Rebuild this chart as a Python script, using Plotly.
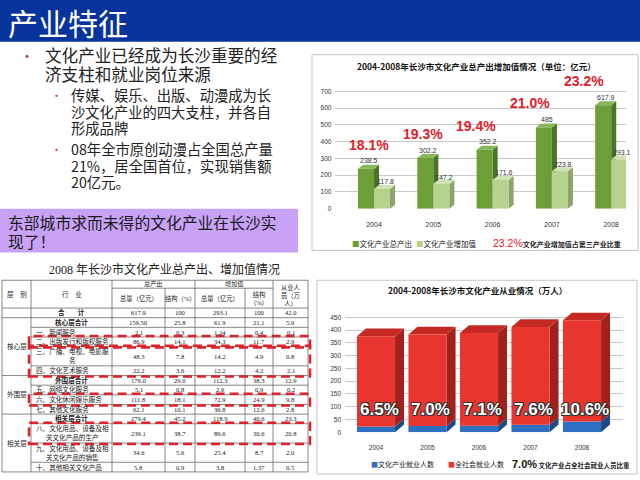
import plotly.graph_objects as go

W, H = 640, 480
def X(p): return p / W
def Y(p): return 1 - p / H

CJK = "Noto Sans CJK SC"
SERIF = "Liberation Serif, Noto Sans CJK SC"
NARROW = "Liberation Sans Narrow, Liberation Sans, Arial"

# ---------------- data ----------------
page_title = "产业特征"
bullet_main = ["文化产业已经成为长沙重要的经", "济支柱和就业岗位来源"]
bullet_sub1 = ["传媒、娱乐、出版、动漫成为长", "沙文化产业的四大支柱，并各自", "形成品牌"]
bullet_sub2 = ["08年全市原创动漫占全国总产量", "21%，居全国首位，实现销售额", "20亿元。"]
callout = ["东部城市求而未得的文化产业在长沙实", "现了！"]

years = ["2004", "2005", "2006", "2007", "2008"]
total_output = [238.5, 302.2, 352.2, 485, 617.9]
added_value = [117.8, 147.2, 171.6, 223.8, 293.1]
tertiary_share = ["18.1%", "19.3%", "19.4%", "21.0%", "23.2%"]
chart1_title = "2004-2008年长沙市文化产业总产出增加值情况（单位：亿元）"
chart1_names = ["文化产业总产出", "文化产业增加值", "文化产业增加值占第三产业比重"]

culture_jobs = [23, 25, 26, 29, 42]
society_jobs = [353, 358, 363, 383, 396]
culture_job_share = ["6.5%", "7.0%", "7.1%", "7.6%", "10.6%"]
chart2_title = "2004-2008年长沙市文化产业从业情况（万人）"
chart2_names = ["文化产业就业人数", "全社会就业人数", "文化产业占全社会就业人员比重"]

table_title = "2008 年长沙市文化产业总产出、增加值情况"
layer_names = ["核心层", "外围层", "相关层"]
layer_rows = [(1, 5), (6, 9), (10, 13)]
industries = ["合　　计", "核心层合计", "一、新闻服务", "二、出版发行和版权服务",
              "三、广播、电视、电影服<br>务", "四、文化艺术服务", "外围层合计",
              "五、网络文化服务", "六、文化休闲娱乐服务", "七、其他文化服务", "相关层合计",
              "八、文化用品、设备及相<br>关文化产品的生产",
              "九、文化用品、设备及相<br>关文化产品的销售", "十、其他相关文化产品"]
row_units = [1, 1, 1, 1, 2, 1, 1, 1, 1, 1, 1, 2, 2, 1]
subtotal_rows = [0, 1, 6, 10]
out_total = ["617.9", "159.50", "2.1", "86.9", "48.3", "22.2", "179.0", "5.1", "111.8", "62.1", "279.4", "239.1", "34.6", "5.8"]
out_share = ["100", "25.8", "0.3", "14.1", "7.8", "3.6", "29.0", "0.8", "18.1", "10.1", "45.2", "38.7", "5.6", "0.9"]
add_total = ["293.1", "61.9", "1.24", "34.3", "14.2", "12.2", "112.3", "2.6", "72.9", "36.8", "118.9", "89.6", "25.4", "3.8"]
add_share = ["100", "21.1", "0.4", "11.7", "4.9", "4.2", "38.3", "0.9", "24.9", "12.6", "40.6", "30.6", "8.7", "1.37"]
employees = ["42.0", "5.9", "0.1", "2.9", "0.8", "2.1", "12.9", "0.2", "9.8", "2.8", "23.3", "20.8", "2.0", "0.5"]
highlight_rows = [(3, 3), (4, 5), (8, 8), (11, 11)]

# ---------------- figure ----------------
fig = go.Figure()
shapes = []
anns = []

def ann(x, y, text, size, color="#222", xa="left", ya="middle", family=CJK, **kw):
    d = dict(x=X(x), y=Y(y), xref="paper", yref="paper", text=text, showarrow=False,
             xanchor=xa, yanchor=ya, font=dict(size=size, color=color, family=family))
    d.update(kw)
    anns.append(d)

def block(x, y, lines, size, spacing, color="#222"):
    # one text element; line pitch = 1.3 * base font, glyphs drawn at `size`
    body = "<br>".join(f"<span style='font-size:{size}px'>{t}</span>" for t in lines)
    ann(x, y, body, spacing / 1.3, color=color, align="left", borderpad=0)

def rect(x0, y0, x1, y1, fill=None, line=None, lw=1, dash=None, layer="below"):
    d = dict(type="rect", xref="paper", yref="paper", x0=X(x0), x1=X(x1), y0=Y(y1), y1=Y(y0),
             fillcolor=fill if fill else "rgba(0,0,0,0)", layer=layer,
             line=dict(color=line if line else "rgba(0,0,0,0)", width=lw if line else 0))
    if dash:
        d["line"]["dash"] = dash
    shapes.append(d)

def seg(x0, y0, x1, y1, color="#555", w=0.7):
    shapes.append(dict(type="line", xref="paper", yref="paper", x0=X(x0), x1=X(x1),
                       y0=Y(y0), y1=Y(y1), line=dict(color=color, width=w), layer="above"))

# title bar
rect(0, 0, 640, 42, fill="#07349C")
ann(7, 22, page_title, 30, color="white", borderpad=0)

# bullet text
BUL = "#B5453F"
ann(18, 55, "•", 14, color=BUL)
block(44, 64.5, bullet_main, 16.6, 18.8)
ann(49, 95.5, "•", 11, color=BUL)
block(70, 112, bullet_sub1, 14.3, 16.6)
ann(49, 149.5, "•", 11, color=BUL)
block(70, 166, bullet_sub2, 14.3, 16.6)

# callout box
rect(0, 210, 298, 254, fill="#C8A2F6")
block(7, 233.5, callout, 15.8, 18.6, color="#1a1a1a")

# ---------------- chart 1 ----------------
idx = list(range(len(years)))
w1 = 0.27
fig.add_trace(go.Bar(x=idx, y=total_output, width=w1, offset=-w1, marker=dict(color="#6E9E38", line=dict(width=0)),
                     xaxis="x", yaxis="y", name=chart1_names[0]))
fig.add_trace(go.Bar(x=idx, y=added_value, width=w1, offset=0, marker=dict(color="#B5D28E", line=dict(width=0)),
                     xaxis="x", yaxis="y", name=chart1_names[1]))
dx1, dy1 = 0.085, 24
def faces(xref, yref, x0, x1, y0, y1, dx, dy, side, top):
    shapes.append(dict(type="path", xref=xref, yref=yref, layer="between", line=dict(width=0), fillcolor=side,
                       path=f"M{x1},{y0} L{x1+dx},{y0+dy} L{x1+dx},{y1+dy} L{x1},{y1} Z"))
    shapes.append(dict(type="path", xref=xref, yref=yref, layer="between", line=dict(width=0), fillcolor=top,
                       path=f"M{x0},{y1} L{x1},{y1} L{x1+dx},{y1+dy} L{x0+dx},{y1+dy} Z"))
for i in idx:
    faces("x", "y", i - w1, i, 0, total_output[i], dx1, dy1, "#4B7426", "#8AB758")
    faces("x", "y", i, i + w1, 0, added_value[i], dx1, dy1, "#8DA56C", "#CFE2B4")
for i in idx:
    anns.append(dict(x=i - w1 / 2, y=total_output[i], xref="x", yref="y", text=f"{total_output[i]:g}", borderpad=0,
                     showarrow=False, yanchor="middle", yshift=8, xshift=3, font=dict(size=7, color="#333", family="Liberation Sans")))
    anns.append(dict(x=i + w1 / 2, y=added_value[i], xref="x", yref="y", text=f"{added_value[i]:g}", borderpad=0,
                     showarrow=False, yanchor="middle", yshift=7, xshift=3, font=dict(size=7, color="#333", family="Liberation Sans")))
    anns.append(dict(x=i, y=total_output[i], xref="x", yref="y", text=f"<b>{tertiary_share[i]}</b>", borderpad=0,
                     showarrow=False, yanchor="middle", yshift=24, xshift=-5 - 5.6 * i,
                     font=dict(size=14, color="#E0202A", family=NARROW)))

rect(312, 55, 638, 252, line="#C4C4C4", lw=1)
ann(476, 66, f"<b>{chart1_title}</b>", 8.5, color="#111", xa="center")
ann(351, 245, "<span style='color:#6E9E38'>■</span>" + chart1_names[0], 7.5, color="#222", borderpad=0)
ann(415, 245, "<span style='color:#B5D28E'>■</span>" + chart1_names[1], 7.5, color="#222", borderpad=0)
ann(492, 245, f"<span style='color:#E0202A;font-size:10.5px;font-family:Liberation Sans Narrow, Liberation Sans'>{tertiary_share[-1]}</span>"
    f"<b>{chart1_names[2]}</b>", 7, color="#222", borderpad=0)

# ---------------- chart 2 ----------------
w2 = 0.74
fig.add_trace(go.Bar(x=idx, y=culture_jobs, width=w2, marker=dict(color="#2E6FC2", line=dict(width=0)),
                     xaxis="x2", yaxis="y2", name=chart2_names[0]))
fig.add_trace(go.Bar(x=idx, y=society_jobs, base=culture_jobs, width=w2, marker=dict(color="#E8352E", line=dict(width=0)),
                     xaxis="x2", yaxis="y2", name=chart2_names[1]))
dx2, dy2 = 0.175, 30
for i in idx:
    b = culture_jobs[i]
    t = culture_jobs[i] + society_jobs[i]
    x0, x1 = i - w2 / 2, i + w2 / 2
    shapes.append(dict(type="path", xref="x2", yref="y2", layer="between", line=dict(width=0), fillcolor="#1D4A86",
                       path=f"M{x1},0 L{x1+dx2},{dy2} L{x1+dx2},{b+dy2} L{x1},{b} Z"))
    faces("x2", "y2", x0, x1, b, t, dx2, dy2, "#A3211D", "#C42A23")
    anns.append(dict(x=i, y=89, xref="x2", yref="y2", text=f"<b>{culture_job_share[i]}</b>", showarrow=False,
                     xshift=3, font=dict(size=17, color="white", family=NARROW,
                                         shadow="-1px -1px 0 #333, 1px -1px 0 #333, -1px 1px 0 #333, 1px 1px 0 #333")))

rect(317, 282, 637, 477, line="#C4C4C4", lw=1)
ann(477, 292, f"<b>{chart2_title}</b>", 8.5, color="#111", xa="center")
ann(370, 467, "<span style='color:#2E6FC2'>■</span>" + chart2_names[0], 7, color="#222", borderpad=0)
ann(447, 467, "<span style='color:#E8352E'>■</span>" + chart2_names[1], 7, color="#222", borderpad=0)
ann(511, 467, f"<span style='color:#111;font-size:11px;font-family:Liberation Sans Narrow, Liberation Sans'><b>{culture_job_share[1]}</b></span>"
    f" <b>{chart2_names[2]}</b>", 6.5, color="#222", borderpad=0)

# ---------------- table ----------------
cols_x = [2, 31, 112, 165, 195, 245, 273, 308]
t_top, h_mid, h_bot = 282, 290, 310
unit = 9.7
edges = [h_bot]
for u in row_units:
    edges.append(edges[-1] + u * unit)
t_bot = edges[-1]
TL = "#555"
TF = 6.6
ann(164, 271, table_title, 12, color="#222", xa="center", family=SERIF, borderpad=0)
seg(cols_x[0], t_top, cols_x[-1], t_top, TL)
seg(cols_x[0], t_bot, cols_x[-1], t_bot, TL)
seg(cols_x[0], h_bot, cols_x[-1], h_bot, TL)
seg(cols_x[2], h_mid, cols_x[6], h_mid, TL)
for k, cx in enumerate(cols_x):
    y0 = h_mid if k in (3, 5) else t_top
    seg(cx, y0, cx, t_bot, TL)
layer_breaks = {0} | {b for (_, b) in layer_rows}
for r in range(len(industries) - 1):
    xs = cols_x[0] if r in layer_breaks else cols_x[1]
    seg(xs, edges[r + 1], cols_x[-1], edges[r + 1], TL)

def tcell(x, y, text, size=TF, xa="center"):
    ann(x, y, text, size, xa=xa, family=SERIF, borderpad=0)

hy = (t_top + h_bot) / 2
tcell((cols_x[0] + cols_x[1]) / 2, hy, "层　别")
tcell((cols_x[1] + cols_x[2]) / 2, hy, "行　业")
tcell((cols_x[2] + cols_x[4]) / 2, (t_top + h_mid) / 2, "总产出", 6.2)
tcell((cols_x[4] + cols_x[6]) / 2, (t_top + h_mid) / 2, "增加值", 6.2)
sub_heads = ["总量（亿元）", "结构（%）", "总量（亿元）", "结构<br>（%）"]
for k, t in enumerate(sub_heads):
    tcell((cols_x[2 + k] + cols_x[3 + k]) / 2, (h_mid + h_bot) / 2, t, 6.3)
tcell((cols_x[6] + cols_x[7]) / 2, hy + 0.5, "从业人<br>员（万<br>人）", 6.3)

for name, (a, b) in zip(layer_names, layer_rows):
    tcell((cols_x[0] + cols_x[1]) / 2, (edges[a] + edges[b + 1]) / 2, name)
value_cols = [out_total, out_share, add_total, add_share, employees]
for r, name in enumerate(industries):
    yc = (edges[r] + edges[r + 1]) / 2
    if r in subtotal_rows:
        tcell((cols_x[1] + cols_x[2]) / 2, yc, f"<b>{name}</b>")
    else:
        tcell(cols_x[1] + 4, yc, name, xa="left")
    for k, col in enumerate(value_cols):
        tcell((cols_x[2 + k] + cols_x[3 + k]) / 2, yc, col[r])

for (a, b) in highlight_rows:
    rect(29, edges[a] - 1, 310, edges[b + 1] + 1, line="#E0202A", lw=2.5, dash="9px,5px", layer="above")

# ---------------- layout ----------------
x1c, s1 = 374, 59.3
y1b, k1 = 210, 0.1686
x2c, s2 = 376, 51.5
y2b, k2 = 435, 0.2571
r1 = [-0.65, 4.25]
r2 = [-0.6, 4.8]
fig.update_layout(
    width=W, height=H, margin=dict(l=0, r=0, t=0, b=0), showlegend=False, barmode="overlay",
    paper_bgcolor="white", plot_bgcolor="white",
    xaxis=dict(domain=[X(x1c + s1 * r1[0]), X(x1c + s1 * r1[1])], range=r1, tickvals=idx, ticktext=years,
               showgrid=False, zeroline=False, showline=False, ticks="", ticklabelstandoff=10,
               tickfont=dict(size=7, color="#333", family="Liberation Sans"), fixedrange=True),
    yaxis=dict(domain=[Y(y1b), Y(y1b - 740 * k1)], range=[0, 740], tickvals=list(range(0, 701, 100)),
               gridcolor="#C8C8C8", gridwidth=1, zeroline=False, showline=False, ticks="", ticklabelstandoff=3,
               tickfont=dict(size=6.5, color="#333", family="Liberation Sans")),
    xaxis2=dict(domain=[X(x2c + s2 * r2[0]), X(x2c + s2 * r2[1])], range=r2, tickvals=idx, ticktext=years,
                anchor="y2", showgrid=False, zeroline=False, showline=False, ticks="", ticklabelstandoff=10,
                tickfont=dict(size=6.5, color="#333", family="Liberation Sans")),
    yaxis2=dict(domain=[Y(y2b), Y(y2b - 480 * k2)], range=[0, 480], tickvals=list(range(0, 451, 50)),
                anchor="x2", gridcolor="#C8C8C8", gridwidth=1, zeroline=False, showline=False, ticks="",
                ticklabelstandoff=3, tickfont=dict(size=6.5, color="#333", family="Liberation Sans")),
    shapes=shapes, annotations=anns,
)
fig.write_html("out.html")
